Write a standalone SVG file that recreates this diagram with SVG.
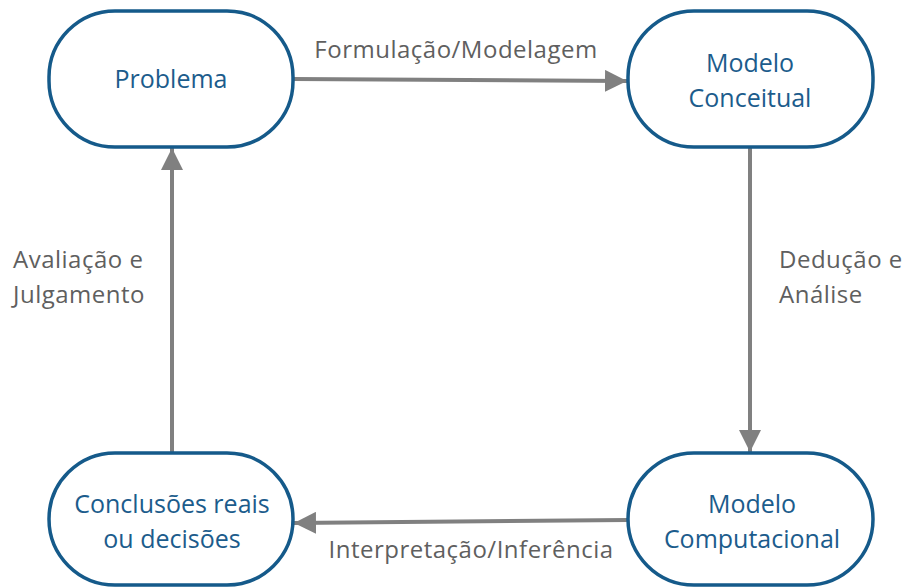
<svg xmlns="http://www.w3.org/2000/svg" width="903" height="587" viewBox="0 0 903 587">
<defs>
<marker id="ah" viewBox="0 0 10 10" refX="10" refY="5" markerWidth="5.5" markerHeight="5.5" markerUnits="strokeWidth" orient="auto">
<path d="M0,0 L10,5 L0,10 z" fill="#808080"/>
</marker>
<style>
.node rect{fill:#fff;stroke:#155a8a;stroke-width:3.5}
.nt{font-family:"Open Sans","Noto Sans",sans-serif;font-size:25px;fill:#1c5c8c;text-anchor:middle}
.lbl{font-family:"Open Sans","Noto Sans",sans-serif;font-size:24px;fill:#5f5f5f;letter-spacing:0.5px}
.edge{stroke:#808080;stroke-width:4;fill:none;marker-end:url(#ah)}
</style>
</defs>
<rect width="903" height="587" fill="#fff"/>
<g id="connectors">
<path class="edge" d="M293,79 L627,81"/>
<path class="edge" d="M750,147 L750,452"/>
<path class="edge" d="M628,520 L294,523"/>
<path class="edge" d="M172,453 L172,148"/>
</g>
<g id="n1" class="node"><rect x="49" y="11" width="244" height="136" rx="66" ry="66"/><text class="nt" x="171" y="88">Problema</text></g>
<g id="n2" class="node"><rect x="628" y="11" width="245" height="136" rx="66" ry="66"/><text class="nt" x="750" y="72">Modelo</text><text class="nt" x="750" y="107">Conceitual</text></g>
<g id="n3" class="node"><rect x="628" y="453" width="245" height="132" rx="66" ry="66"/><text class="nt" x="752" y="513">Modelo</text><text class="nt" x="752" y="548">Computacional</text></g>
<g id="n4" class="node"><rect x="49" y="453" width="244" height="132" rx="66" ry="66"/><text class="nt" x="172" y="513">Conclusões reais</text><text class="nt" x="172" y="548">ou decisões</text></g>
<g id="labels">
<text class="lbl" x="456" y="58" text-anchor="middle">Formulação/Modelagem</text>
<text class="lbl" x="13" y="268">Avaliação e</text>
<text class="lbl" x="13" y="303">Julgamento</text>
<text class="lbl" x="779" y="268">Dedução e</text>
<text class="lbl" x="779" y="303">Análise</text>
<text class="lbl" x="471" y="558" text-anchor="middle">Interpretação/Inferência</text>
</g>
</svg>
